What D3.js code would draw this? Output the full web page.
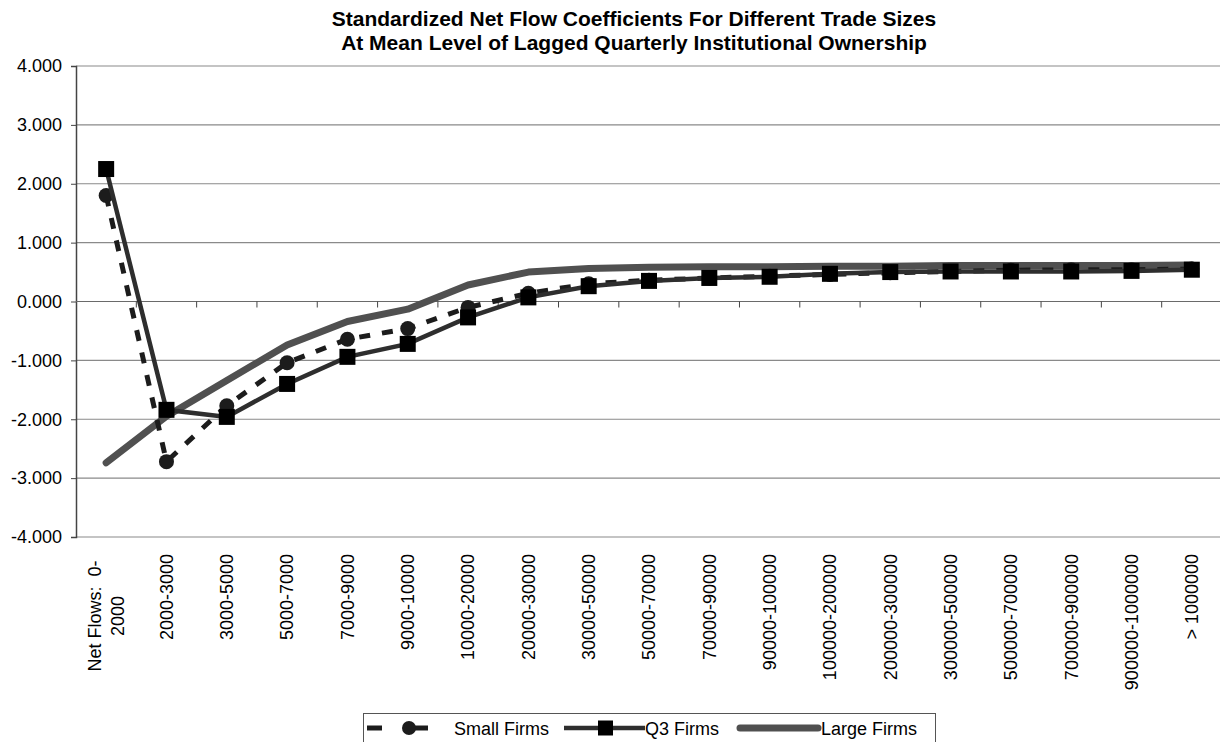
<!DOCTYPE html>
<html>
<head>
<meta charset="utf-8">
<script src="https://cdn.jsdelivr.net/npm/d3@7"></script>
<style>
  body { margin: 0; background: #fff; }
  svg { font-family: "Liberation Sans", Arial, sans-serif; }
</style>
</head>
<body>
<svg width="1220" height="742"></svg>
<script>
// categories (trade size buckets)
var categories = ["Net Flows:  0-\n2000", "2000-3000", "3000-5000", "5000-7000", "7000-9000",
  "9000-10000", "10000-20000", "20000-30000", "30000-50000", "50000-70000", "70000-90000",
  "90000-100000", "100000-200000", "200000-300000", "300000-500000", "500000-700000",
  "700000-900000", "900000-1000000", "> 1000000"];

var smallFirms = [1.80, -2.72, -1.77, -1.04, -0.64, -0.46, -0.10, 0.14, 0.30, 0.36,
  0.40, 0.43, 0.46, 0.49, 0.51, 0.53, 0.54, 0.54, 0.55];
var q3Firms = [2.25, -1.84, -1.96, -1.40, -0.94, -0.72, -0.27, 0.07, 0.26, 0.35,
  0.40, 0.42, 0.47, 0.50, 0.51, 0.51, 0.51, 0.52, 0.54];
var largeFirms = [-2.74, -1.95, -1.34, -0.74, -0.34, -0.13, 0.28, 0.50, 0.56, 0.58,
  0.59, 0.59, 0.60, 0.60, 0.61, 0.61, 0.61, 0.61, 0.62];

var yTicks = [4, 3, 2, 1, 0, -1, -2, -3, -4];
var titleLines = ["Standardized Net Flow Coefficients For Different Trade Sizes",
  "At Mean Level of Lagged Quarterly Institutional Ownership"];

//begin: layout conf.
var plot = {left: 76, right: 1222, top: 66, bottom: 537};
//end: layout conf.

var svg = d3.select("svg");

var x = d3.scaleBand().domain(categories).range([plot.left, plot.right]);
var y = d3.scaleLinear().domain([-4, 4]).range([plot.bottom, plot.top]);
var cx = function(d, i){ return x(categories[i]) + x.bandwidth()/2; };

// plain hyphen for negatives, like the original
var fmt = d3.formatLocale({decimal: ".", thousands: ",", grouping: [3], currency: ["", ""], minus: "-"}).format(".3f");

// title
svg.append("g").selectAll("text")
  .data(titleLines).enter()
  .append("text")
    .attr("x", 634)
    .attr("y", function(d,i){ return 26 + i*24; })
    .attr("text-anchor", "middle")
    .style("font-weight", "bold")
    .style("font-size", "21px")
    .text(function(d){ return d; });

// gridlines
svg.append("g").selectAll("line")
  .data(yTicks).enter()
  .append("line")
    .attr("x1", plot.left).attr("x2", plot.right)
    .attr("y1", function(d){ return y(d); })
    .attr("y2", function(d){ return y(d); })
    .attr("stroke", "#8a8a8a")
    .attr("stroke-width", 1.2);

// y axis
var yAxis = svg.append("g")
    .attr("transform", "translate(" + plot.left + ",0)")
    .call(d3.axisLeft(y).tickValues(yTicks).tickFormat(fmt).tickSize(5).tickPadding(9));
yAxis.select(".domain").attr("stroke", "#444").attr("stroke-width", 1.5);
yAxis.selectAll(".tick line").attr("stroke", "#444");
yAxis.selectAll("text").style("font-size", "18px").style("fill", "#000")
  .style("font-family", "'Liberation Sans', Arial, sans-serif");

// category axis crosses at zero
var xAxis = svg.append("g")
    .attr("transform", "translate(0," + y(0) + ")");
xAxis.append("line")
    .attr("x1", plot.left).attr("x2", plot.right)
    .attr("stroke", "#6a6a6a").attr("stroke-width", 1.2);
xAxis.selectAll(".tk")
  .data(categories.slice(1)).enter()
  .append("line")
    .attr("x1", function(d){ return x(d); })
    .attr("x2", function(d){ return x(d); })
    .attr("y1", 0).attr("y2", 6)
    .attr("stroke", "#444");

// category labels, rotated, below the plot
var labels = svg.append("g").selectAll("text")
  .data(categories).enter()
  .append("text")
    .attr("transform", function(d,i){ return "translate(" + cx(d,i) + "," + (plot.bottom + 17) + ") rotate(-90)"; })
    .style("font-size", "18px")
    .style("white-space", "pre");
labels.each(function(d){
  var parts = d.split("\n");
  var t = d3.select(this);
  if (parts.length == 1) {
    t.attr("text-anchor", "end").attr("dy", "0.35em").text(d);
  } else {
    // two-line label, lines centred on each other
    t.attr("text-anchor", "middle");
    parts.forEach(function(p, k){
      t.append("tspan")
        .attr("x", -62)
        .attr("y", (k - (parts.length-1)/2) * 23)
        .attr("dy", "0.35em")
        .text(p);
    });
  }
});

// lines
var line = function(vals){
  return d3.line()
    .x(function(d,i){ return cx(d,i); })
    .y(function(d){ return y(d); })(vals);
};

svg.append("path")
    .attr("d", line(largeFirms))
    .attr("fill", "none")
    .attr("stroke", "#505050")
    .attr("stroke-width", 7)
    .attr("stroke-linecap", "round")
    .attr("stroke-linejoin", "round");

svg.append("path")
    .attr("d", line(smallFirms))
    .attr("fill", "none")
    .attr("stroke", "#1c1c1c")
    .attr("stroke-width", 5)
    .attr("stroke-dasharray", "11,12");

svg.append("g").selectAll("circle")
  .data(smallFirms).enter()
  .append("circle")
    .attr("cx", cx)
    .attr("cy", function(d){ return y(d); })
    .attr("r", 7.5)
    .attr("fill", "#1c1c1c");

svg.append("path")
    .attr("d", line(q3Firms))
    .attr("fill", "none")
    .attr("stroke", "#2e2e2e")
    .attr("stroke-width", 4.5);

svg.append("g").selectAll("rect")
  .data(q3Firms).enter()
  .append("rect")
    .attr("x", function(d,i){ return cx(d,i) - 8; })
    .attr("y", function(d){ return y(d) - 8; })
    .attr("width", 16).attr("height", 16)
    .attr("fill", "#000");

// legend
var legend = svg.append("g");
legend.append("rect")
    .attr("x", 363.5).attr("y", 713.5)
    .attr("width", 572).attr("height", 40)
    .attr("fill", "#fff").attr("stroke", "#555");

var ly = 728;
legend.append("line").attr("x1", 367).attr("x2", 382).attr("y1", ly).attr("y2", ly)
    .attr("stroke", "#1c1c1c").attr("stroke-width", 5);
legend.append("line").attr("x1", 409).attr("x2", 428).attr("y1", ly).attr("y2", ly)
    .attr("stroke", "#1c1c1c").attr("stroke-width", 5);
legend.append("circle").attr("cx", 409).attr("cy", ly).attr("r", 7).attr("fill", "#1c1c1c");

legend.append("line").attr("x1", 564).attr("x2", 645).attr("y1", ly).attr("y2", ly)
    .attr("stroke", "#2e2e2e").attr("stroke-width", 4.5);
legend.append("rect").attr("x", 598).attr("y", ly - 7.5).attr("width", 15).attr("height", 15).attr("fill", "#000");

legend.append("line").attr("x1", 740).attr("x2", 818).attr("y1", ly).attr("y2", ly)
    .attr("stroke", "#505050").attr("stroke-width", 7).attr("stroke-linecap", "round");

var legendText = [["Small Firms", 454], ["Q3 Firms", 645], ["Large Firms", 821]];
legend.selectAll("text")
  .data(legendText).enter()
  .append("text")
    .attr("x", function(d){ return d[1]; })
    .attr("y", ly + 6.5)
    .style("font-size", "18px")
    .text(function(d){ return d[0]; });
</script>
</body>
</html>
